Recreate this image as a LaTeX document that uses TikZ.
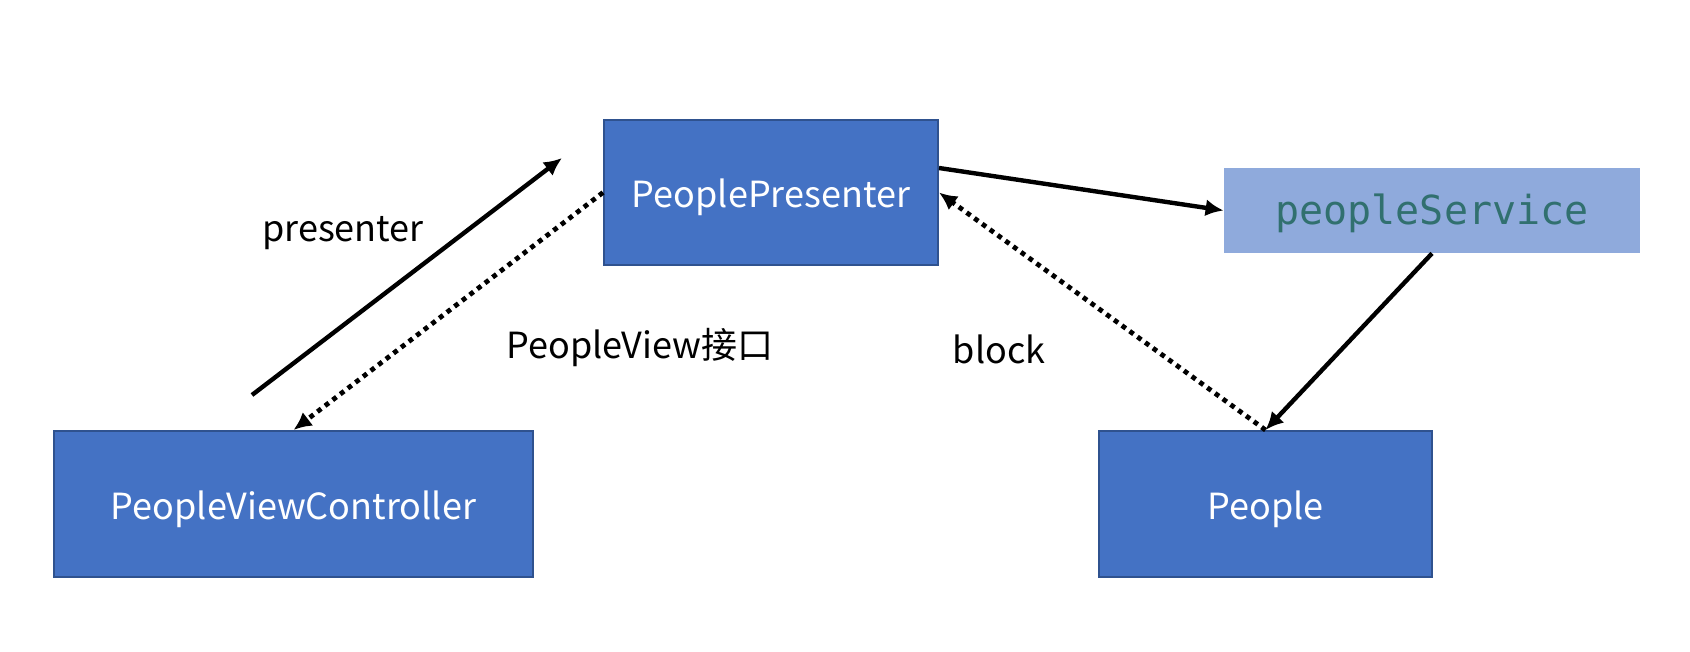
\documentclass[tikz,border=0pt]{standalone}
\usepackage{fontspec}
\setmainfont{Noto Sans CJK SC}
\newfontfamily\monofont{DejaVu Sans Mono}
\usetikzlibrary{arrows.meta,calc}
\definecolor{boxblue}{HTML}{4472C4}
\definecolor{boxedge}{HTML}{2F528F}
\definecolor{lightblue}{HTML}{8FAADC}
\definecolor{teal2}{HTML}{31706F}
\tikzset{
  mainbox/.style={draw=boxedge, line width=1pt, fill=boxblue, text=white, font=\fontsize{18}{21}\selectfont, inner sep=0pt, text height=18pt, text depth=3pt},
  servbox/.style={fill=lightblue, text=teal2, font=\monofont\fontsize{20}{23}\selectfont, inner sep=0pt, text height=17.5pt, text depth=3pt},
  conn/.style={line width=2.2pt, -{Latex[length=9pt,width=8.5pt]}},
  dotconn/.style={line width=2.4pt, dash pattern=on 2.4pt off 2.4pt, -{Latex[length=9pt,width=8.5pt]}},
  lbl/.style={font=\fontsize{18}{21}\selectfont, text=black, inner sep=0pt, anchor=base}
}
\begin{document}
\begin{tikzpicture}[x=0.5pt,y=-0.5pt]
\useasboundingbox[fill=white] (0,0) rectangle (1690,652);
\node[mainbox, minimum width=167pt, minimum height=72.5pt] (PP) at (771,192.5) {PeoplePresenter};
\node[servbox, minimum width=208pt, minimum height=42.5pt] (PS) at (1432,210.5) {peopleService};
\node[mainbox, minimum width=239.5pt, minimum height=73pt] (PVC) at (293.5,504) {PeopleViewController};
\node[mainbox, minimum width=166.5pt, minimum height=73pt] (PE) at (1265.5,504) {People};
\coordinate (pa) at (252,395);
\coordinate (pb) at (562,158);
\draw[conn] (pa) -- (pb);
\draw[dotconn] (PP.west) -- (PVC.north);
\draw[conn] ($(PP.east)+(0,-24.5)$) -- (PS.west);
\draw[dotconn] (PE.north) -- (PP.east);
\draw[conn] (PS.south) -- (PE.north);
\node[lbl] (l1) at (343,242) {presenter};
\node[lbl] (l2) at (640,358) {PeopleView接口};
\node[lbl] (l3) at (999,363) {block};
\end{tikzpicture}
\end{document}
